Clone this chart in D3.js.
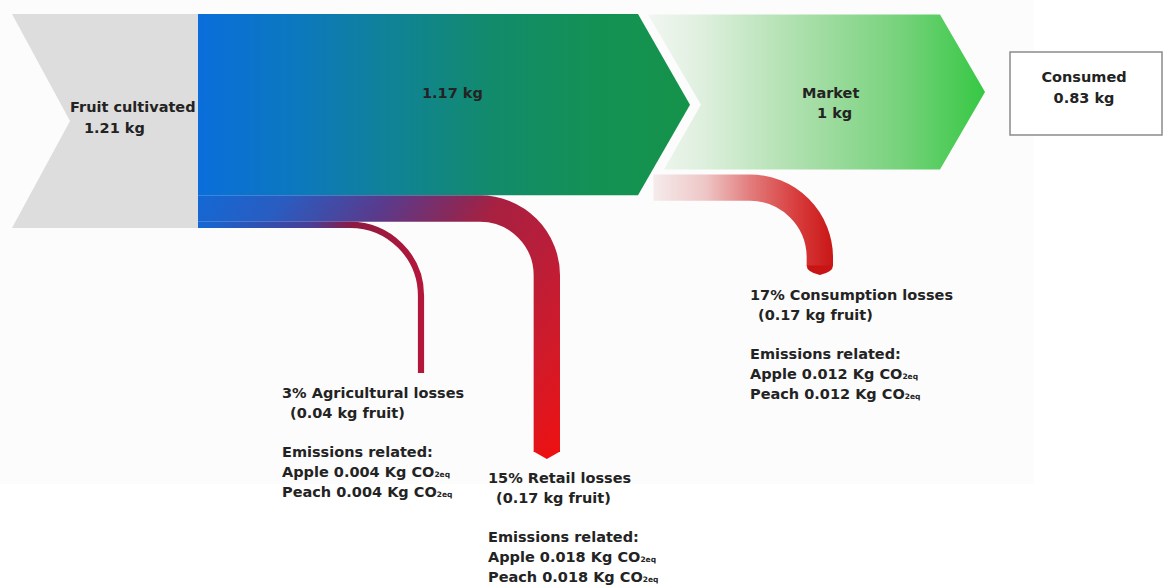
<!DOCTYPE html>
<html>
<head>
<meta charset="utf-8">
<script src="https://cdn.jsdelivr.net/npm/d3@7"></script>
<style>
  html, body { margin: 0; padding: 0; background: #ffffff; }
  svg { display: block; }
  text { font-family: "DejaVu Sans", Verdana, sans-serif; font-weight: bold; fill: #232323; }
</style>
</head>
<body>
<svg id="chart" width="1168" height="588"></svg>
<script>
// Fruit flow through the supply chain (kg of fruit) and the losses at each step
const stageNames = ["Fruit cultivated", "", "Market", "Consumed"];
const stageKg = [1.21, 1.17, 1, 0.83];

const lossNames = ["Agricultural", "Retail", "Consumption"];
const lossPct = [3, 15, 17];
const lossKg = [0.04, 0.17, 0.17];
const appleCO2 = [0.004, 0.018, 0.012];
const peachCO2 = [0.004, 0.018, 0.012];

const svg = d3.select("#chart");
const defs = svg.append("defs");

// flow thickness in pixels per kg of fruit
const thick = d3.scaleLinear().domain([0, 1]).range([0, 155]);

function linGrad(id, x1, y1, x2, y2, stops) {
  const g = defs.append("linearGradient").attr("id", id)
    .attr("gradientUnits", "userSpaceOnUse")
    .attr("x1", x1).attr("y1", y1).attr("x2", x2).attr("y2", y2);
  stops.forEach(([o, c]) => g.append("stop").attr("offset", o).attr("stop-color", c));
  return `url(#${id})`;
}

// faint page panel behind the diagram
svg.append("rect").attr("x", 0).attr("y", 0).attr("width", 1034).attr("height", 484)
  .attr("fill", "#fcfcfc");

// ---- main flow geometry ----
const yTop = 14;
const mainH = thick(stageKg[1]);
const mainBottom = yTop + mainH;
const wAgri = thick(lossKg[0]);
const wRetail = thick(lossKg[1]);
const wCons = thick(lossKg[2]);
const x0 = 198, shoulder = 638, tip = 690;

// grey chevron: cultivated fruit (main flow plus the two early losses)
const greyBottom = mainBottom + wRetail + wAgri;
svg.append("path")
  .attr("d", d3.line()([[12, yTop], [x0, yTop], [x0, greyBottom], [12, greyBottom], [70, (yTop + greyBottom) / 2]]) + "Z")
  .attr("fill", "#dddddd");

// retail loss flow (drawn first so the arrow sits on top)
const retailGrad = linGrad("gRetail", 198, 200, 560, 455, [
  [0, "#1468d4"], [0.16, "#2a5cc0"], [0.35, "#5a3a8c"], [0.49, "#8a2858"],
  [0.56, "#a82040"], [0.7, "#b81e3a"], [0.84, "#d01a2a"], [1, "#ee1010"]
]);
const rY = mainBottom + wRetail / 2;
const rCx = 480, rR = 80 - wRetail / 2;
const rX = rCx + rR, rEnd = 452;
svg.append("path")
  .attr("d", `M${x0},${rY} H${rCx} A${rR},${rR} 0 0 1 ${rX},${rY + rR} V${rEnd}`)
  .attr("fill", "none").attr("stroke", retailGrad).attr("stroke-width", wRetail);
svg.append("path")
  .attr("d", d3.line()([[rX - wRetail / 2, rEnd - 0.5], [rX + wRetail / 2, rEnd - 0.5], [rX, rEnd + 7]]) + "Z")
  .attr("fill", "#ee1010");

// agricultural loss flow
const agriGrad = linGrad("gAgri", 198, 0, 425, 0, [
  [0, "#1468d4"], [0.5, "#4a3e96"], [0.68, "#8c1a42"], [1, "#b5173a"]
]);
const aY = mainBottom + wRetail + wAgri / 2;
const aCx = 350, aR = 71;
svg.append("path")
  .attr("d", `M${x0},${aY} H${aCx} A${aR},${aR} 0 0 1 ${aCx + aR},${aY + aR} V373`)
  .attr("fill", "none").attr("stroke", agriGrad).attr("stroke-width", wAgri);

// main arrow 1.17 kg
const mainGrad = linGrad("gMain", x0, 0, tip, 0, [
  [0, "#0a6edb"], [0.2, "#0c78be"], [0.4, "#108395"], [0.6, "#128b6b"],
  [0.8, "#139155"], [1, "#15934a"]
]);
svg.append("path")
  .attr("d", d3.line()([[x0, yTop], [shoulder, yTop], [tip, (yTop + mainBottom) / 2], [shoulder, mainBottom], [x0, mainBottom]]) + "Z")
  .attr("fill", mainGrad);

// ---- market arrow ----
const mTop = 92 - thick(stageKg[2]) / 2;
const mBottom = 92 + thick(stageKg[2]) / 2;
const notchX = 701, notchY = (yTop + mainBottom) / 2;
const edgeX = y => 648 + (notchX - 648) * (1 - Math.abs(y - notchY) / (notchY - 12));
const marketGrad = linGrad("gMarket", 648, 0, 985, 0, [
  [0, "#f1f6f1"], [0.15, "#e0f0e0"], [0.45, "#acdfac"], [0.75, "#76d27b"], [1, "#36c844"]
]);
svg.append("path")
  .attr("d", d3.line()([[648, mTop], [940, mTop], [985, 92], [940, mBottom],
    [edgeX(mBottom), mBottom], [notchX, notchY]]) + "Z")
  .attr("fill", marketGrad);

// consumption loss flow
const consGrad = linGrad("gCons", 650, 0, 835, 0, [
  [0, "#f6eeee"], [0.3, "#eec6c6"], [0.55, "#e27a7a"], [0.8, "#d83b3b"], [1, "#c81414"]
]);
const cTop = mBottom + 5;
const cY = cTop + wCons / 2;
const cCx = 750, cR = 83 - wCons / 2;
const cX = cCx + cR, cEnd = 266;
const cStart = edgeX(cY);
svg.append("path")
  .attr("d", `M${cStart},${cY} H${cCx} A${cR},${cR} 0 0 1 ${cX},${cY + cR} V${cEnd}`)
  .attr("fill", "none").attr("stroke", consGrad).attr("stroke-width", wCons);
svg.append("path")
  .attr("d", `M${cX - wCons / 2},${cEnd - 0.5} L${cX + wCons / 2},${cEnd - 0.5} Q${cX + wCons / 2},${cEnd + 6} ${cX},${cEnd + 9} Q${cX - wCons / 2},${cEnd + 6} ${cX - wCons / 2},${cEnd - 0.5}Z`)
  .attr("fill", "#c81414");

// ---- consumed box ----
svg.append("rect").attr("x", 1010).attr("y", 52).attr("width", 152).attr("height", 83)
  .attr("fill", "#ffffff").attr("stroke", "#8a8a8a").attr("stroke-width", 1.5);

// ---- stage labels ----
const kgLabel = v => `${v} kg`;
function label(x, y, str, anchor) {
  svg.append("text").attr("x", x).attr("y", y)
    .attr("dominant-baseline", "central")
    .attr("text-anchor", anchor || "start")
    .style("font-size", "14.5px").text(str);
}
label(70, 107, stageNames[0]);
label(84, 128, kgLabel(stageKg[0]));
label(422, 93, kgLabel(stageKg[1]));
label(802, 93, stageNames[2]);
label(817, 113, kgLabel(stageKg[2]));
label(1084, 77, stageNames[3], "middle");
label(1084, 98, kgLabel(stageKg[3]), "middle");

// ---- loss annotations ----
const lossPos = [
  { x: 282, y: 393 },
  { x: 488, y: 478 },
  { x: 750, y: 295 }
];
const lineH = 19.8;
lossNames.forEach((name, i) => {
  const p = lossPos[i];
  label(p.x, p.y, `${lossPct[i]}% ${name} losses`);
  label(p.x + 8, p.y + lineH, `(${lossKg[i]} kg fruit)`);
  label(p.x, p.y + lineH * 3, "Emissions related:");
  [["Apple", appleCO2[i]], ["Peach", peachCO2[i]]].forEach(([fruit, v], j) => {
    const t = svg.append("text").attr("x", p.x).attr("y", p.y + lineH * (4 + j))
      .attr("dominant-baseline", "central").style("font-size", "14.5px");
    t.append("tspan").text(`${fruit} ${v} Kg CO`);
    t.append("tspan").style("font-size", "7.5px").attr("dy", 2).text("2eq");
  });
});
</script>
</body>
</html>
